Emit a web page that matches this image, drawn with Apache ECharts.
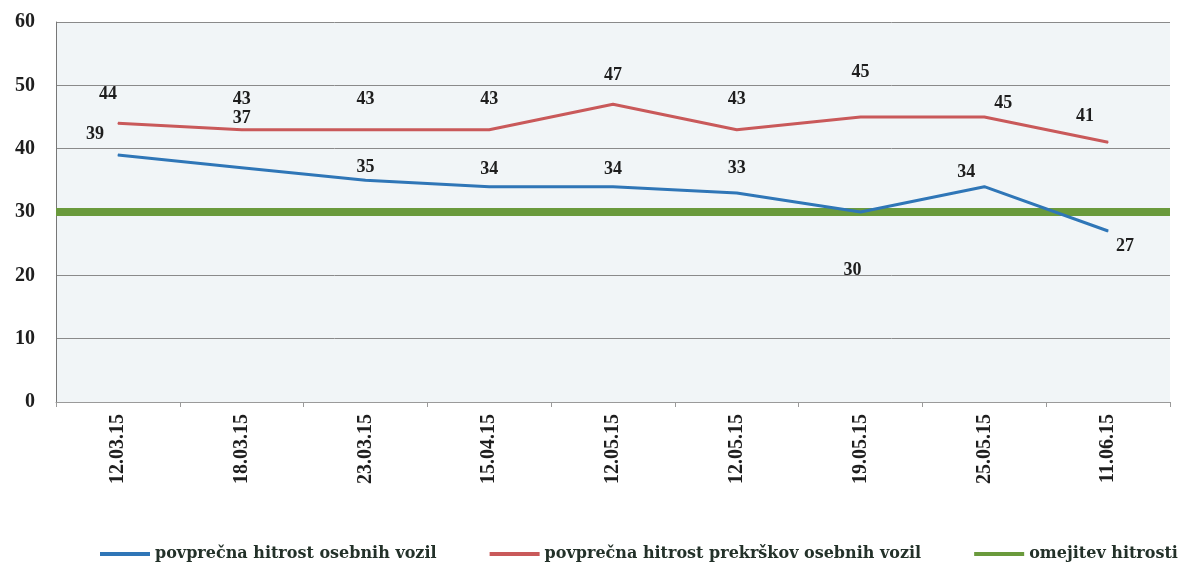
<!DOCTYPE html>
<html>
<head>
<meta charset="utf-8">
<script src="https://cdn.jsdelivr.net/npm/echarts@6/dist/echarts.min.js"></script>
<style>
  html, body { margin: 0; padding: 0; background: #fff; }
  #chart { width: 1187px; height: 568px; }
</style>
</head>
<body>
<div id="chart"></div>
<script>
var dates = ['12.03.15', '18.03.15', '23.03.15', '15.04.15', '12.05.15', '12.05.15', '19.05.15', '25.05.15', '11.06.15'];
var avgSpeed = [39, 37, 35, 34, 34, 33, 30, 34, 27];
var avgOffenceSpeed = [44, 43, 43, 43, 47, 43, 45, 45, 41];
var speedLimit = [30, 30, 30, 30, 30, 30, 30, 30, 30];
var yTicks = [0, 10, 20, 30, 40, 50, 60];

var seriesNames = ['povprečna hitrost osebnih vozil', 'povprečna hitrost prekrškov osebnih vozil', 'omejitev hitrosti'];

// label offsets from the point
var blueOffsets = [[-23, -21], [0, -49], [0, -13], [0, -17], [0, -17], [0, -25], [-8, 58], [-18, -14], [17, 15]];
var redOffsets = [[-10, -29], [0, -30], [0, -30], [0, -30], [0, -29], [0, -30], [0, -45], [19, -14], [-23, -26]];

var NUMFONT = '"Liberation Serif", "DejaVu Serif", serif';
var TEXTFONT = '"DejaVu Serif", "Liberation Serif", serif';

function withLabels(values, offsets) {
    return values.map(function (v, i) {
        return {
            value: v,
            label: { offset: offsets[i] }
        };
    });
}

var labelStyle = {
    show: true, position: 'inside',
    fontFamily: NUMFONT, fontWeight: 'bold', fontSize: 18, color: '#1e1e1e'
};

var chart = echarts.init(document.getElementById('chart'));
chart.setOption({
    animation: false,
    backgroundColor: '#ffffff',
    grid: {
        left: 56, right: 17, top: 22, bottom: 166,
        show: true, backgroundColor: '#f1f5f7', borderWidth: 0
    },
    legend: {
        bottom: 6, left: 100, width: 1300, padding: 0,
        itemWidth: 50, itemHeight: 4, itemGap: 53,
        icon: 'rect',
        textStyle: { fontFamily: TEXTFONT, fontWeight: 'bold', fontSize: 16, color: '#233129' },
        data: seriesNames
    },
    xAxis: [{
        type: 'category',
        data: dates,
        boundaryGap: true,
        axisLine: { lineStyle: { color: '#9a9a9a' } },
        axisTick: { show: true, length: 5, lineStyle: { color: '#9a9a9a' } },
        axisLabel: {
            rotate: 90, margin: 12,
            fontFamily: NUMFONT, fontWeight: 'bold', fontSize: 20, color: '#1e1e1e'
        }
    }, {
        type: 'category',
        data: dates,
        boundaryGap: false,
        show: false
    }],
    yAxis: {
        type: 'value',
        min: yTicks[0], max: yTicks[yTicks.length - 1], interval: 10,
        axisLine: { show: true, lineStyle: { color: '#777' } },
        axisTick: { show: false },
        axisLabel: {
            margin: 21,
            fontFamily: NUMFONT, fontWeight: 'bold', fontSize: 20, color: '#1e1e1e'
        },
        splitLine: { lineStyle: { color: '#8a8a8a', width: 1 } }
    },
    series: [{
        name: seriesNames[0],
        type: 'line',
        data: withLabels(avgSpeed, blueOffsets),
        symbol: 'circle', symbolSize: 1, showSymbol: true,
        lineStyle: { color: '#2f76b7', width: 3 },
        itemStyle: { color: '#2f76b7' },
        label: labelStyle,
        z: 3
    }, {
        name: seriesNames[1],
        type: 'line',
        data: withLabels(avgOffenceSpeed, redOffsets),
        symbol: 'circle', symbolSize: 1, showSymbol: true,
        lineStyle: { color: '#c9595a', width: 3 },
        itemStyle: { color: '#c9595a' },
        label: labelStyle,
        z: 3
    }, {
        name: seriesNames[2],
        type: 'line',
        xAxisIndex: 1,
        data: speedLimit,
        symbol: 'none',
        lineStyle: { color: '#6a9a3c', width: 8 },
        itemStyle: { color: '#6a9a3c' },
        z: 2
    }]
});
</script>
</body>
</html>
